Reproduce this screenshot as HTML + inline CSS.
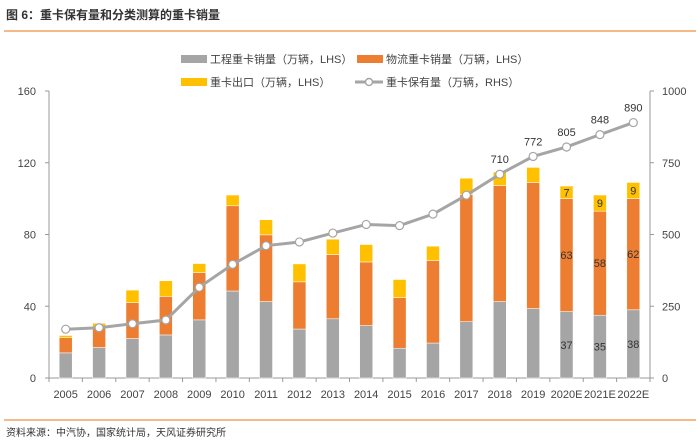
<!DOCTYPE html>
<html><head><meta charset="utf-8">
<style>
body{margin:0;background:#fff;}
svg text{font-family:"Liberation Sans","Noto Sans CJK SC",sans-serif;}
</style></head>
<body>
<svg id="chart" width="700" height="442" viewBox="0 0 700 442" xmlns="http://www.w3.org/2000/svg">
<text x="6" y="19" font-size="12" font-weight="bold" fill="#333">图 6：重卡保有量和分类测算的重卡销量</text>
<line x1="4" y1="31" x2="696" y2="31" stroke="#f4a460" stroke-width="1.5"/>
<line x1="4" y1="420" x2="696" y2="420" stroke="#f4a460" stroke-width="1.5"/>
<text x="6" y="436" font-size="10" fill="#333">资料来源：中汽协，国家统计局，天风证券研究所</text>
<g font-size="11" fill="#444">
<rect x="181" y="55" width="26" height="8" fill="#a5a5a5"/>
<text x="210" y="63" fill="#444">工程重卡销量（万辆，LHS）</text>
<rect x="357" y="55" width="26" height="8" fill="#ed7d31"/>
<text x="386" y="63" fill="#444">物流重卡销量（万辆，LHS）</text>
<rect x="181" y="78" width="26" height="8" fill="#ffc000"/>
<text x="210" y="86" fill="#444">重卡出口（万辆，LHS）</text>
<line x1="355" y1="82" x2="383" y2="82" stroke="#a5a5a5" stroke-width="3"/>
<circle cx="369" cy="82" r="3.5" fill="#fff" stroke="#a5a5a5" stroke-width="1.5"/>
<text x="386" y="86" fill="#444">重卡保有量（万辆，RHS）</text>
</g>
<g id="plot"></g>
</svg>
<script>
const categories=["2005","2006","2007","2008","2009","2010","2011","2012","2013","2014","2015","2016","2017","2018","2019","2020E","2021E","2022E"];
const engineering=[14,17,22,24,32.4,48.5,42.6,27.3,33,29.2,16.6,19.5,31.4,42.6,38.7,37,35,38];
const logistics=[8.5,11,20,21.5,26.4,47.5,37.2,26.3,35.8,35.5,28.2,46,70.9,64.7,70.3,63,58,62];
const exportsArr=[1.2,2.5,7,8.7,5,6,8.4,10,8.6,9.7,10.1,8,9.1,7.5,8.4,7,9,9];
const stock=[170,175,189,202,316,396,461,474,505,535,531,571,637,710,772,805,848,890];
const leftTicks=[0,40,80,120,160];
const rightTicks=[0,250,500,750,1000];
const stockLabelFrom=13;
const barLabelFrom=15;

const NS="http://www.w3.org/2000/svg";
const g=document.getElementById('plot');
const X0=49,X1=650,Y0=378,Y1=91;
const step=(X1-X0)/categories.length;
const xC=i=>X0+step*(i+0.5);
const yL=v=>Y0-(v/160)*(Y0-Y1);
const yR=v=>Y0-(v/1000)*(Y0-Y1);
function mk(tag,attrs){const e=document.createElementNS(NS,tag);for(const k in attrs)e.setAttribute(k,attrs[k]);g.appendChild(e);return e;}

// axes
let a=mk('line',{x1:X0,y1:Y1,x2:X0,y2:Y0,stroke:'#999','stroke-width':1});


a=mk('line',{x1:X1,y1:Y1,x2:X1,y2:Y0,stroke:'#999','stroke-width':1});


a=mk('line',{x1:X0,y1:Y0,x2:X1,y2:Y0,stroke:'#999','stroke-width':1});


leftTicks.forEach(v=>{
  mk('line',{x1:X0-4,y1:yL(v),x2:X0,y2:yL(v),stroke:'#999'});
  const t=mk('text',{x:X0-13,y:yL(v)+4,'font-size':11,fill:'#444','text-anchor':'end'});
  t.textContent=v;
  
  
});
rightTicks.forEach(v=>{
  mk('line',{x1:X1,y1:yR(v),x2:X1+4,y2:yR(v),stroke:'#999'});
  const t=mk('text',{x:X1+12,y:yR(v)+4,'font-size':11,fill:'#444'});
  t.textContent=v;
  
  
});
for(let i=0;i<=categories.length;i++){
  mk('line',{x1:X0+step*i,y1:Y0,x2:X0+step*i,y2:Y0+4,stroke:'#999'});
}
categories.forEach((c,i)=>{
  const t=mk('text',{x:xC(i),y:398,'font-size':11,fill:'#444','text-anchor':'middle'});
  t.textContent=c;
  
  
});
// bars
const bw=13;
categories.forEach((c,i)=>{
  const segs=[[engineering[i],'#a5a5a5','bar-engineering'],[logistics[i],'#ed7d31','bar-logistics'],[exportsArr[i],'#ffc000','bar-export']];
  let base=0;
  segs.forEach(([v,col,name])=>{
    const r=mk('rect',{x:xC(i)-bw/2,y:yL(base+v),width:bw,height:yL(base)-yL(base+v),fill:col,stroke:'#fff','stroke-width':0.5});
    
    
    if(i>=barLabelFrom){
      const t=mk('text',{x:xC(i),y:(yL(base)+yL(base+v))/2+4,'font-size':11,fill:'#333','text-anchor':'middle'});
      t.textContent=Math.round(v);
      
      
    }
    base+=v;
  });
});
// line
const pl=mk('polyline',{points:stock.map((v,i)=>xC(i)+','+yR(v)).join(' '),fill:'none',stroke:'#a5a5a5','stroke-width':3});


stock.forEach((v,i)=>{
  const c=mk('circle',{cx:xC(i),cy:yR(v),r:4,fill:'#fff',stroke:'#a5a5a5','stroke-width':1.2});
  
  
  if(i>=stockLabelFrom){
    const t=mk('text',{x:xC(i),y:yR(v)-11,'font-size':11,fill:'#333','text-anchor':'middle'});
    t.textContent=v;
    
    
  }
});
</script>
</body></html>
